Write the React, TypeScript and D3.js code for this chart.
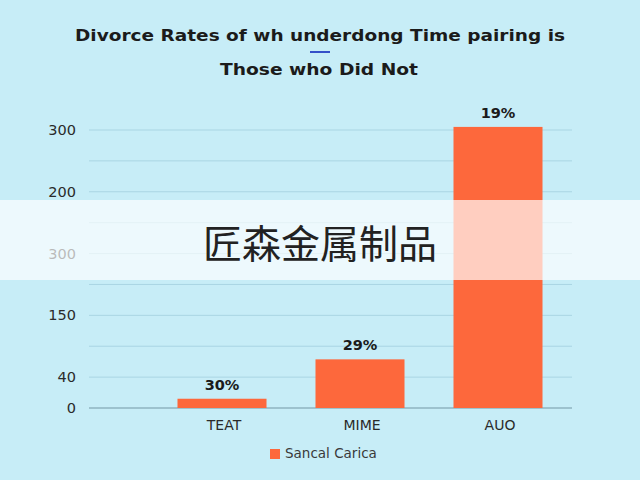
import * as d3 from 'd3'

// values (axis units: 40 per gridline step)
const categories = ['TEAT', 'MIME', 'AUO']
const values = [12, 63, 364]
const valueLabels = ['30%', '29%', '19%']
const yTickValues = [0, 40, 120, 200, 280, 360]
const yTickLabels = ['0', '40', '150', '300', '200', '300']
const gridValues = d3.range(0, 361, 40)
const legendLabel = 'Sancal Carica'
const titleLines = ['Divorce Rates of wh underdong Time pairing is', 'Those who Did Not']
const watermark = '匠森金属制品'

const W = 640
const H = 480
const BAR = '#fd683c'
const BG = '#c7edf7'
const FONT = '"DejaVu Sans", Verdana, sans-serif'

const App = () => {
    const x = d3.scaleBand<string>()
        .domain(categories)
        .range([153, 567])
        .paddingInner(0.355)
        .paddingOuter(0.1775)
    const y = d3.scaleLinear().domain([0, 360]).range([408, 130])

    return (
        <svg width={W} height={H} style={{ position: 'absolute', left: 0, top: 0, display: 'block' }}>
            <rect width={W} height={H} fill={BG} />

            <g fontFamily={FONT} fill="#1b1b1b" fontWeight={700} fontSize={16.5} textAnchor="middle">
                <text x={320} y={41} textLength={490} lengthAdjust="spacingAndGlyphs">{titleLines[0]}</text>
                <text x={319} y={75} textLength={198} lengthAdjust="spacingAndGlyphs">{titleLines[1]}</text>
            </g>
            <line x1={310} x2={330} y1={52} y2={52} stroke="#3550c8" strokeWidth={2} />

            {gridValues.map(v => (
                <line key={v} x1={89} x2={572} y1={y(v)} y2={y(v)}
                    stroke={v === 0 ? '#8fb3c0' : '#a9d5e3'} strokeWidth={v === 0 ? 1.5 : 1} />
            ))}

            {yTickValues.map((v, i) => (
                <text key={v} x={76} y={y(v)} dy="0.35em" textAnchor="end"
                    fontFamily={FONT} fontSize={14.5} fill="#2a2a2a">{yTickLabels[i]}</text>
            ))}

            {categories.map((c, i) => (
                <g key={c}>
                    <rect x={x(c)} y={y(values[i])} width={x.bandwidth()} height={y(0) - y(values[i])} fill={BAR} />
                    <text x={(x(c) ?? 0) + x.bandwidth() / 2} y={y(values[i]) - 9} textAnchor="middle"
                        fontFamily={FONT} fontWeight={700} fontSize={14.5} fill="#1b1b1b">{valueLabels[i]}</text>
                    <text x={(x(c) ?? 0) + x.bandwidth() / 2 + 2} y={430} textAnchor="middle"
                        fontFamily={FONT} fontSize={14} fill="#2a2a2a">{c}</text>
                </g>
            ))}

            <rect x={270} y={449} width={10} height={10} fill={BAR} />
            <text x={285} y={458} fontFamily={FONT} fontSize={13.5} fill="#3a3a3a">{legendLabel}</text>

            <rect x={0} y={200} width={W} height={80} fill="#ffffff" opacity={0.68} />
            <text x={320} y={258} textAnchor="middle" fontFamily='"Noto Sans CJK SC", sans-serif'
                fontSize={39} fill="#222">{watermark}</text>
        </svg>
    )
}

export default App
